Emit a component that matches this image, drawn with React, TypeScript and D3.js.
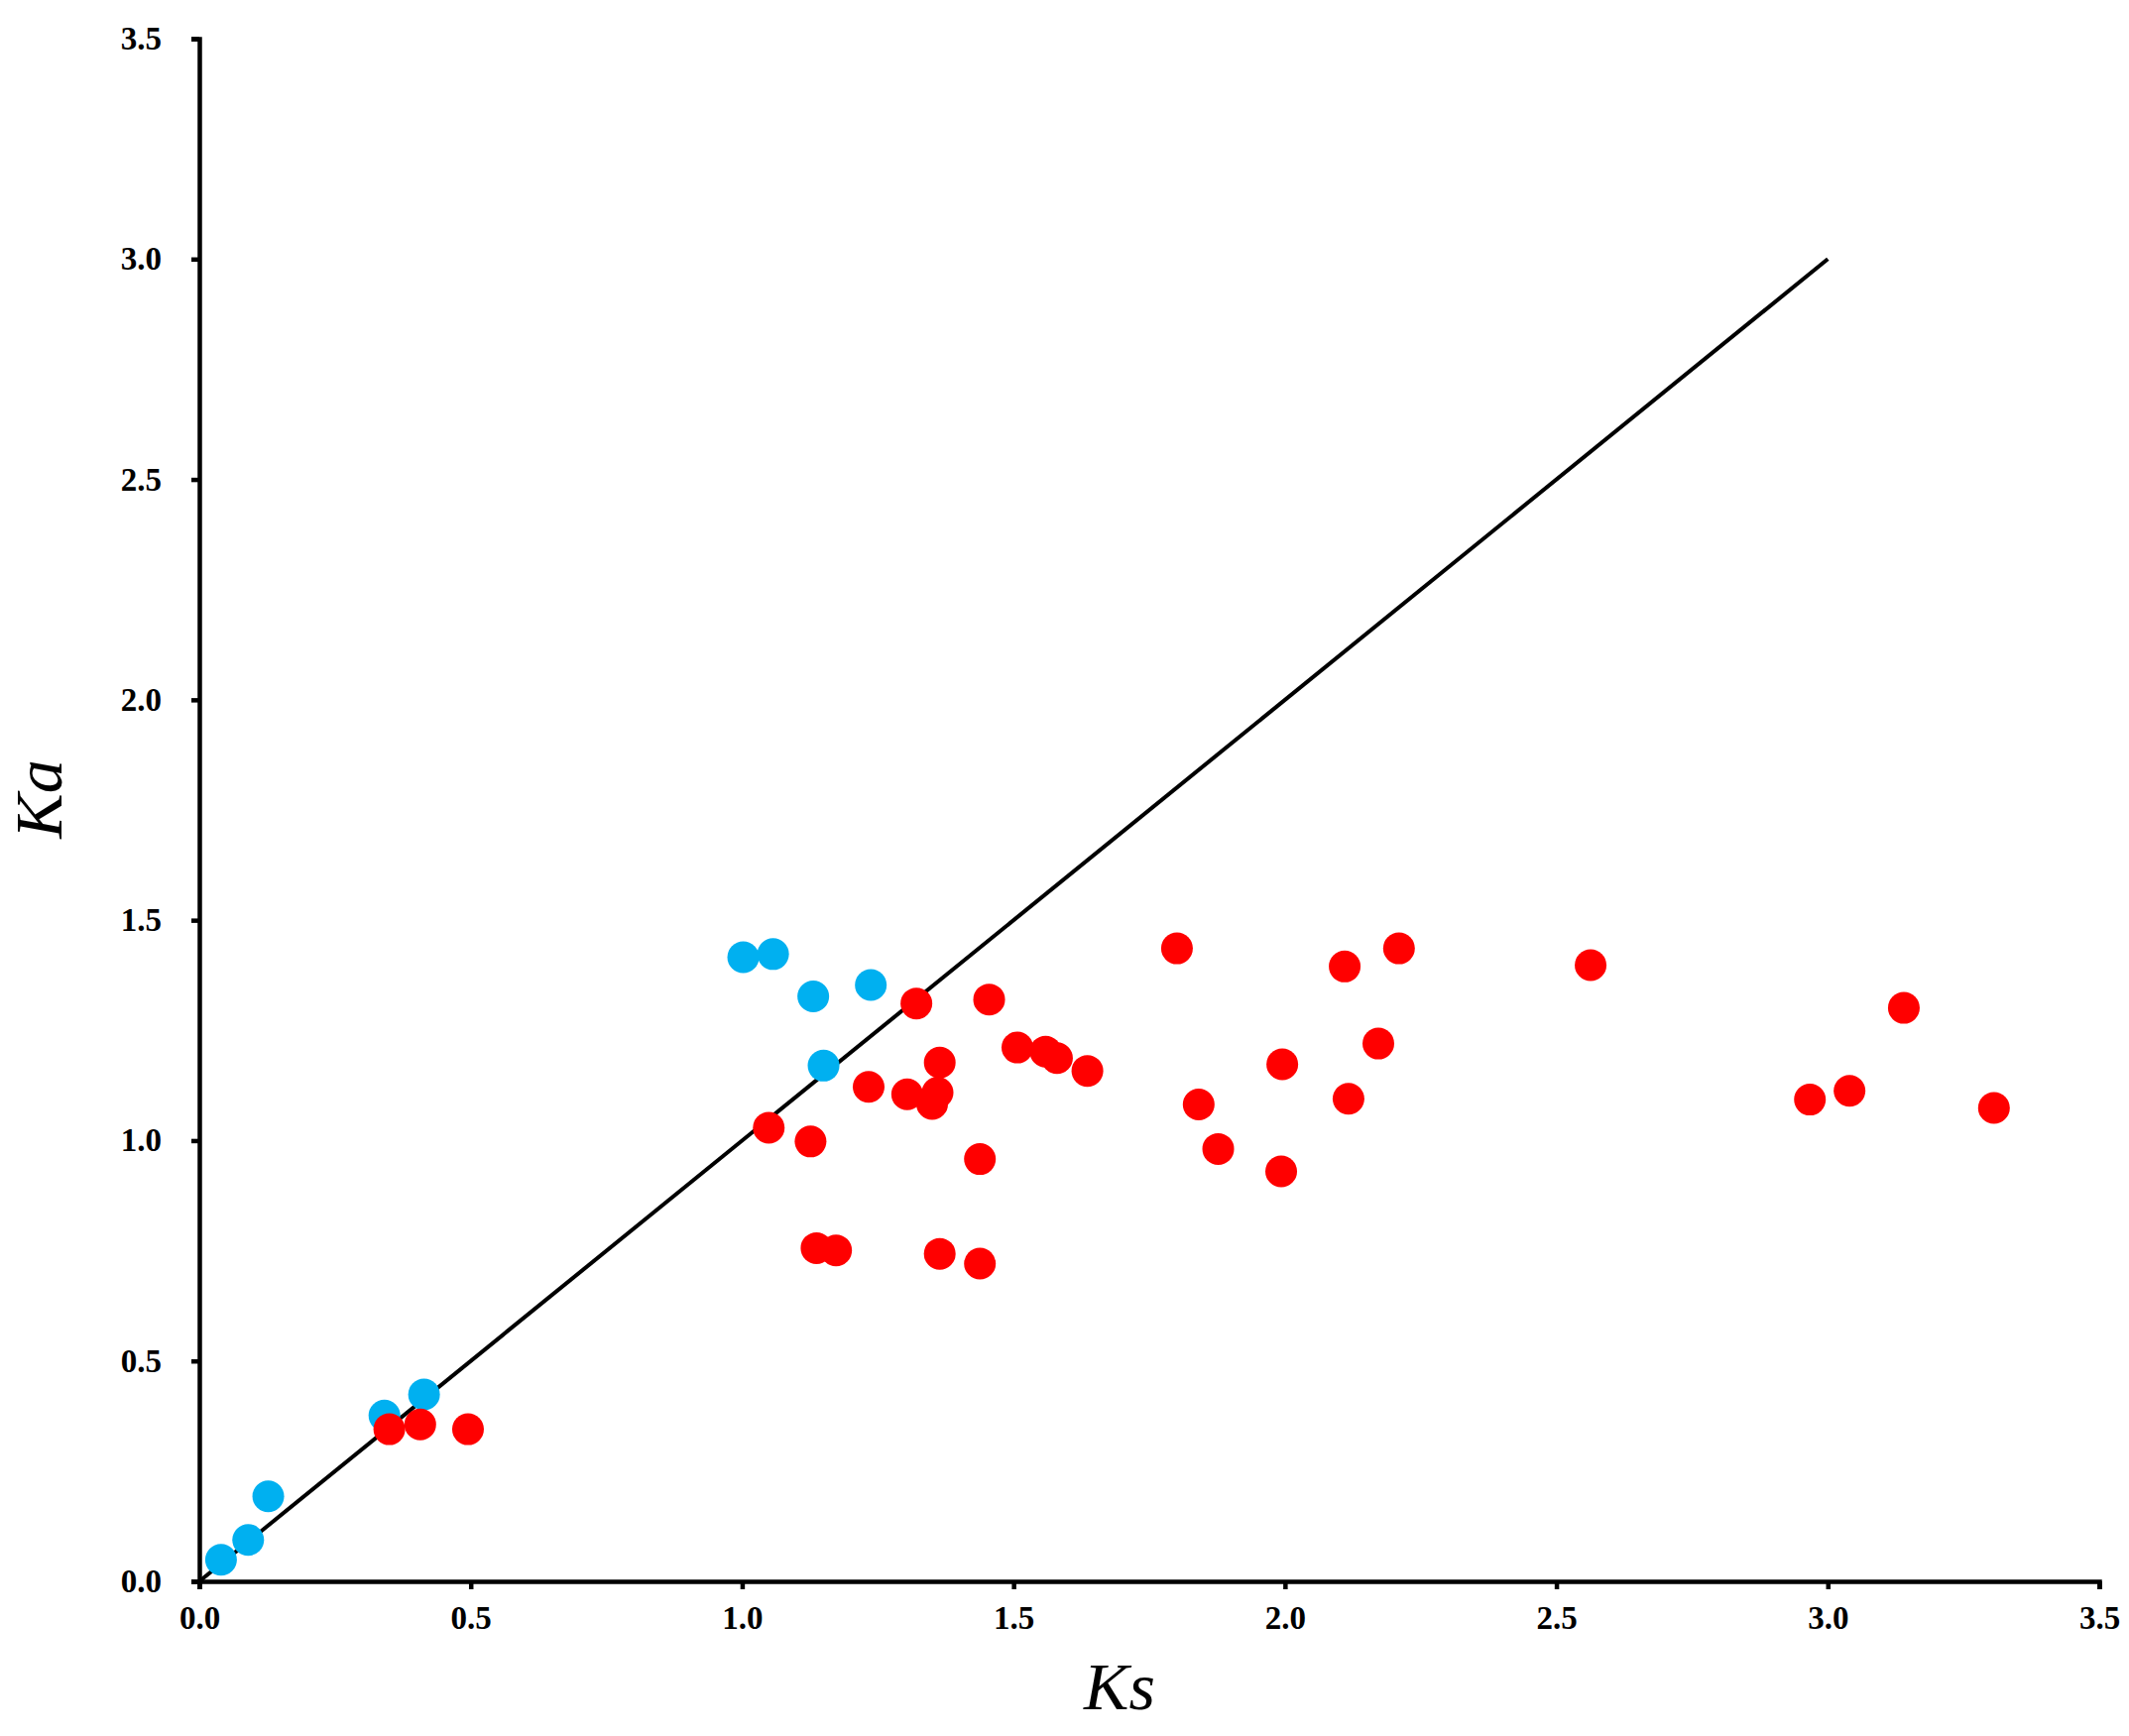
import React, { useEffect, useRef } from 'react';
import * as d3 from 'd3';

// Ks / Ka pairs
const blueKs = [0.040, 0.090, 0.127, 0.341, 0.414, 1.002, 1.057, 1.131, 1.237, 1.150];
const blueKa = [0.049, 0.094, 0.193, 0.376, 0.424, 1.416, 1.423, 1.327, 1.353, 1.170];

const redKs = [
  0.350, 0.407, 0.495, 1.049, 1.126, 1.137, 1.173, 1.233, 1.304, 1.321,
  1.350, 1.360, 1.364, 1.364, 1.438, 1.438, 1.455, 1.507, 1.559, 1.580,
  1.636, 1.801, 1.841, 1.877, 1.993, 1.995, 2.110, 2.117, 2.172, 2.210,
  2.563, 2.967, 3.040, 3.140, 3.306,
];
const redKa = [
  0.345, 0.356, 0.345, 1.029, 0.998, 0.756, 0.751, 1.122, 1.105, 1.311,
  1.083, 1.109, 1.177, 0.743, 0.958, 0.721, 1.320, 1.211, 1.202, 1.187,
  1.158, 1.436, 1.082, 0.981, 0.930, 1.173, 1.395, 1.095, 1.220, 1.436,
  1.398, 1.093, 1.113, 1.301, 1.074,
];

const refLine = [0, 3];
const ticks = [0, 0.5, 1.0, 1.5, 2.0, 2.5, 3.0, 3.5];

const App = () => {
  const ref = useRef(null);
  const width = 2147;
  const height = 1751;
  const margin = { top: 39, right: 30, bottom: 156, left: 201 };

  useEffect(() => {
    document.body.style.margin = '0';
    const svg = d3.select(ref.current)
      .attr('width', width)
      .attr('height', height);
    svg.selectAll('*').remove();

    const x = d3.scaleLinear().domain([0, 3.5]).range([margin.left, width - margin.right]);
    const y = d3.scaleLinear().domain([0, 3.5]).range([height - margin.bottom, margin.top]);

    svg.append('rect').attr('width', width).attr('height', height).attr('fill', '#fff');

    const font = '"Liberation Serif", "Times New Roman", serif';

    // y = x reference line
    svg.append('line')
      .attr('x1', x(refLine[0])).attr('y1', y(refLine[0]))
      .attr('x2', x(refLine[1])).attr('y2', y(refLine[1]))
      .attr('stroke', '#000')
      .attr('stroke-width', 4);

    const xAxis = svg.append('g')
      .attr('transform', `translate(0,${y(0)})`)
      .call(d3.axisBottom(x).tickValues(ticks).tickFormat(d3.format('.1f')).tickSize(8).tickPadding(17));
    const yAxis = svg.append('g')
      .attr('transform', `translate(${x(0)},0)`)
      .call(d3.axisLeft(y).tickValues(ticks).tickFormat(d3.format('.1f')).tickSize(8).tickPadding(30));

    [xAxis, yAxis].forEach((g) => {
      g.selectAll('path, line').attr('stroke', '#000').attr('stroke-width', 4.5);
      g.selectAll('text')
        .attr('fill', '#000')
        .style('font-family', font)
        .style('font-weight', 'bold')
        .style('font-size', '33px');
    });

    const blue = blueKs.map((k, i) => [k, blueKa[i]]);
    const red = redKs.map((k, i) => [k, redKa[i]]);

    svg.append('g').selectAll('circle')
      .data(blue)
      .enter()
      .append('circle')
      .attr('cx', (d) => x(d[0]))
      .attr('cy', (d) => y(d[1]))
      .attr('r', 16)
      .attr('fill', '#00B0F0');

    svg.append('g').selectAll('circle')
      .data(red)
      .enter()
      .append('circle')
      .attr('cx', (d) => x(d[0]))
      .attr('cy', (d) => y(d[1]))
      .attr('r', 16)
      .attr('fill', '#FF0000');

    svg.append('text')
      .attr('x', 1129)
      .attr('y', 1724)
      .attr('text-anchor', 'middle')
      .style('font-family', font)
      .style('font-style', 'italic')
      .style('font-size', '68px')
      .text('Ks');

    svg.append('text')
      .attr('transform', `translate(62,806) rotate(-90)`)
      .attr('text-anchor', 'middle')
      .style('font-family', font)
      .style('font-style', 'italic')
      .style('font-size', '68px')
      .text('Ka');
  }, []);

  return <svg ref={ref} style={{ display: 'block' }}></svg>;
};

export default App;
